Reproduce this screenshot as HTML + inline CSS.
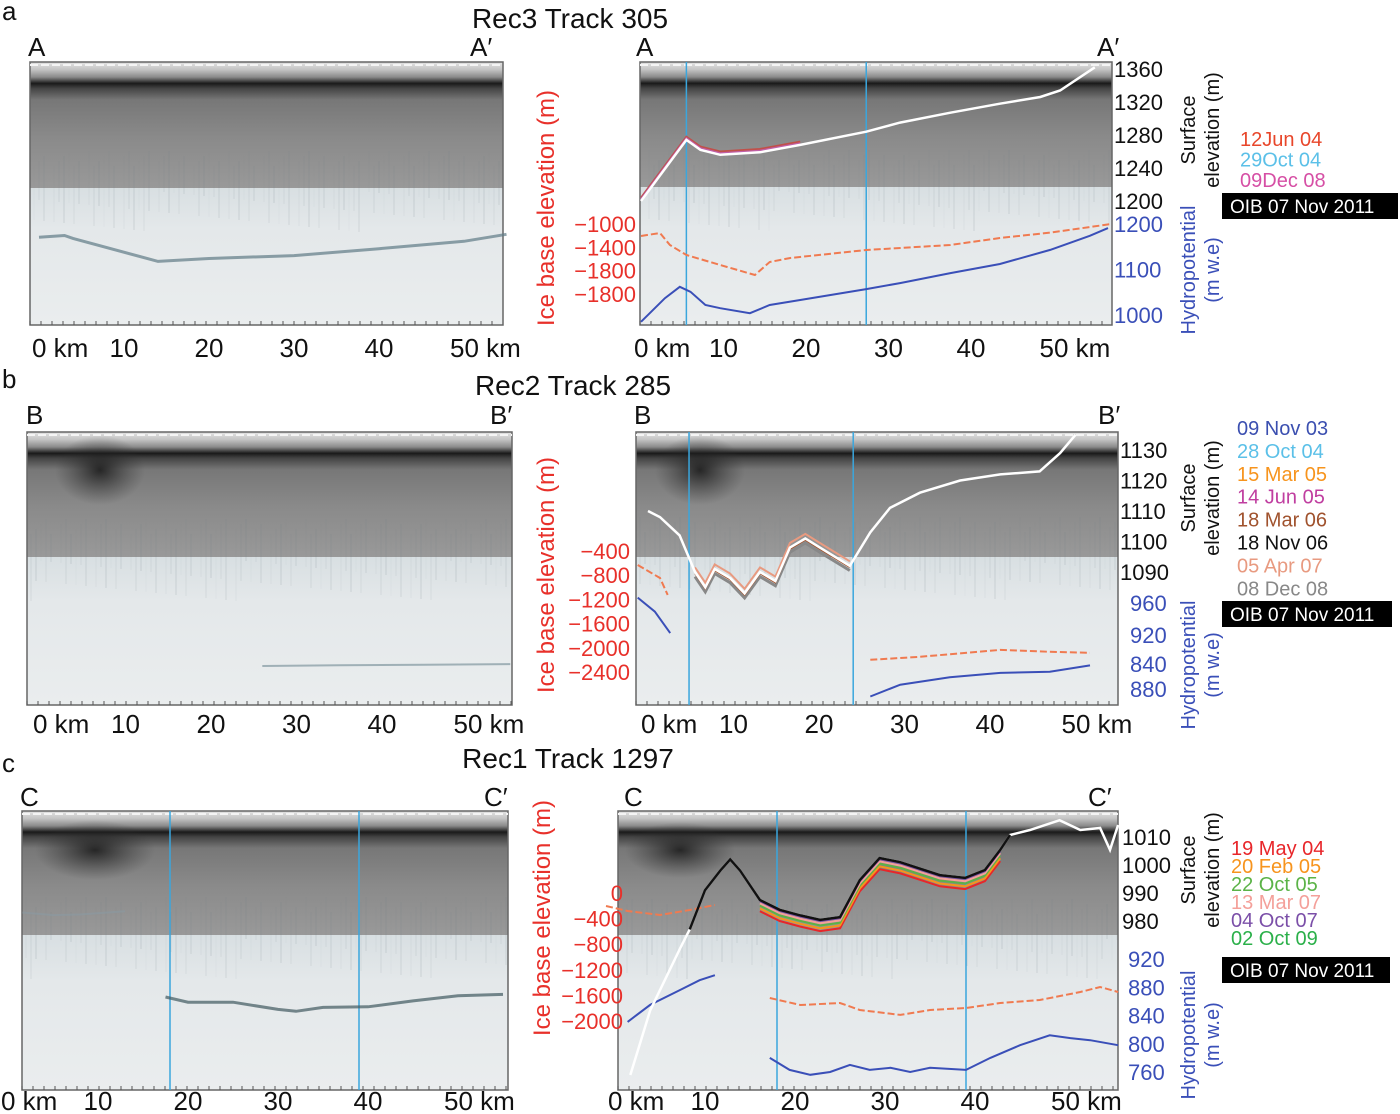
<!DOCTYPE html>
<html><head><meta charset="utf-8"><style>
body{margin:0;background:#fff;width:1400px;height:1114px;overflow:hidden}
svg{display:block;font-family:"Liberation Sans",sans-serif}
</style></head><body>
<svg id="fig" width="1400" height="1114" viewBox="0 0 1400 1114" xmlns="http://www.w3.org/2000/svg">
<defs>
<linearGradient id="gA" x1="0" y1="0" x2="0" y2="1">
<stop offset="0" stop-color="#e4e4e4"/><stop offset="0.06" stop-color="#c4c4c4"/><stop offset="0.12" stop-color="#8a8a8a"/><stop offset="0.17" stop-color="#1a1a1a"/><stop offset="0.21" stop-color="#444"/><stop offset="0.3" stop-color="#777"/><stop offset="0.6" stop-color="#8a8a8a"/><stop offset="1" stop-color="#999"/>
</linearGradient>
<linearGradient id="gL" x1="0" y1="0" x2="0" y2="1">
<stop offset="0" stop-color="#d8dfe2"/><stop offset="0.3" stop-color="#e4e8ea"/><stop offset="1" stop-color="#eaedee"/>
</linearGradient>
<radialGradient id="blob"><stop offset="0" stop-color="#111" stop-opacity="0.8"/><stop offset="1" stop-color="#333" stop-opacity="0"/></radialGradient>
</defs>
<g id="bg"></g>
<g id="marks"></g>
<g id="labels"></g>
</svg>
<script>
// ---- data (km, value) ----
const aSurfKm=[0,5.5,7.2,9.6,14.4,19.3,27.3,31.4,37.5,43.5,48.4,50.8,55];
const aSurfVal=[1200,1274,1262,1256,1259,1268,1284,1295,1307,1318,1326,1334,1362];
const aHydKm=[0,2.9,4.7,6,7.8,9.6,13.2,15.6,19.3,27.3,31.4,37.5,43.5,49.6,54.4,56.6];
const aHydVal=[985,1037,1062,1051,1022,1015,1004,1022,1033,1057,1070,1092,1112,1143,1174,1191];
const aIceKm=[0,2.3,3.5,5.5,9.6,13.8,15.6,18.1,27.3,37.5,43.5,49.6,57];
const aIceVal=[-1209,-1157,-1365,-1539,-1713,-1887,-1661,-1592,-1452,-1365,-1244,-1150,-1000];
const bSurfKm=[0,1.4,3.7,5.5,6.7,7.8,9.6,11.3,13.1,14.9,16.6,18.4,20.1,23.6,26,28.3,31.8,36.5,41.2,45.8,48.2,50];
const bSurfVal=[1110,1108,1102,1090,1085,1091,1088,1083,1090,1087,1098,1101,1098,1092,1103,1111,1116,1120,1122,1123,1129,1135];
const bHyd1Km=[-1.2,0.8,2.6], bHyd1Val=[965,952,932];
const bHyd2Km=[26,29.5,35.3,41.2,47,51.7], bHyd2Val=[873,884,891,895,896,902];
const bIce1Km=[-1.2,1.4,2.3], bIce1Val=[-631,-846,-1126];
const bIce2Km=[26,31.8,41.2,47,51.7], bIce2Val=[-2198,-2149,-2034,-2066,-2083];
const cSurfKm=[1.7,3.9,7.2,8.3,10,11.7,12.8,13.9,16.1,18.3,20.6,22.8,25,27.2,29.4,31.7,36.1,38.9,41.1,42.8,43.9,46.1,49.4,51.7,53.9,55,55.9];
const cSurfVal=[925,948,970,977,991,998,1002,998,987.5,984,982,980.4,981.4,994.6,1002.5,1001,996.4,995.4,998.2,1005.4,1010.7,1012.5,1016,1012.5,1013.2,1005.4,1014.3];
const cHyd1Km=[1.4,3.9,7.2,9.4,11.1], cHyd1Val=[831,855,876,890,897];
const cHyd2Km=[17.2,19.4,21.7,23.9,26.1,28.3,30.6,32.8,35,39,41.7,45,48.3,50.6,52.8,55.9];
const cHyd2Val=[780,763,756,760,770,763,766,760,766,763,780,798,812,808,805,798];
const cIce1Km=[-1,1.4,5,8.3,11.1], cIce1Val=[-200,-277,-338,-261,-185];
const cIce2Km=[17.2,20.6,25,27.2,31.7,35,39,42.8,47.2,51.7,53.9,55.9];
const cIce2Val=[-1615,-1723,-1692,-1800,-1876,-1800,-1769,-1692,-1646,-1523,-1446,-1523];
const kmTicks=[0,10,20,30,40,50];
const aSurfTicks=[1360,1320,1280,1240,1200], aHydTicks=[1200,1100,1000], aIceLabels=["−1000","−1400","−1800","−1800"];
const bSurfTicks=[1130,1120,1110,1100,1090], bHydLabels=["960","920","840","880"], bIceLabels=["−400","−800","−1200","−1600","−2000","−2400"];
const cSurfTicks=[1010,1000,990,980], cHydTicks=[920,880,840,800,760], cIceLabels=["0","−400","−800","−1200","−1600","−2000"];
const aLegend=["12Jun 04","29Oct 04","09Dec 08"];
const bLegend=["09 Nov 03","28 Oct 04","15 Mar 05","14 Jun 05","18 Mar 06","18 Nov 06","05 Apr 07","08 Dec 08"];
const cLegend=["19 May 04","20 Feb 05","22 Oct 05","13 Mar 07","04 Oct 07","02 Oct 09"];

const NS="http://www.w3.org/2000/svg";
const bg=document.getElementById('bg'),marks=document.getElementById('marks'),labels=document.getElementById('labels');
function mk(tag,attrs,parent){const e=document.createElementNS(NS,tag);for(const k in attrs)e.setAttribute(k,attrs[k]);parent.appendChild(e);return e;}
function txt(s,x,y,size,fill,parent,anchor,extra){const e=mk('text',Object.assign({x:x,y:y,'font-size':size,fill:fill,'text-anchor':anchor||'start'},extra||{}),parent);e.textContent=s;return e;}
function lin(d0,d1,p0,p1){return v=>p0+(v-d0)*(p1-p0)/(d1-d0);}
function pathD(xs,ys,X,Y){return xs.map((k,i)=>(i?'L':'M')+X(k).toFixed(1)+','+Y(ys[i]).toFixed(1)).join('');}

function radar(name,x0,x1,y0,yb,y1,blobs){
  const g=mk('g',{},bg);
  
  
  mk('rect',{x:x0,y:y0,width:x1-x0,height:yb-y0,fill:'url(#gA)'},g);
  mk('rect',{x:x0,y:yb,width:x1-x0,height:y1-yb,fill:'url(#gL)'},g);
  (blobs||[]).forEach(b=>mk('ellipse',{cx:b[0],cy:b[1],rx:b[2],ry:b[3],fill:'url(#blob)'},g));
  for(let x=x0+4;x<x1;x+=5){const h=((x*37)%41);const o=((x*13)%7)/30;mk('line',{x1:x,y1:yb-40+((x*7)%20),x2:x,y2:yb+4+h,stroke:'#6f7e86','stroke-width':1,opacity:o},g);}
  mk('rect',{x:x0,y:y0,width:x1-x0,height:y1-y0,fill:'none',stroke:'#666','stroke-width':1.5},g);
  mk('line',{x1:x0,y1:y0+3,x2:x1,y2:y0+3,stroke:'#f4f4f4','stroke-width':2,'stroke-dasharray':'8 3'},g);
  for(let x=x0;x<x1;x+=11){mk('line',{x1:x,y1:y1,x2:x,y2:y1-4,stroke:'#555','stroke-width':1},g);}
  return g;
}
function kmAxis(name,X,y,size){
  kmTicks.forEach(k=>{
    const s=(k===0||k===50)?k+' km':String(k);
    const off=(k===0||k===50)?-(String(k).length*7):0;
    const t=txt(s,X(k)+off,y,size||26,'#111',labels,(k===0||k===50)?'start':'middle');
    
    
  });
}
function line(name,xs,ys,X,Y,attrs){
  const p=mk('path',Object.assign({d:pathD(xs,ys,X,Y),fill:'none'},attrs),marks);
  
  
  return p;
}
function vline(name,x,y0,y1){const l=mk('line',{x1:x,y1:y0,x2:x,y2:y1,stroke:'#3aa6dd','stroke-width':1.5},marks);
  
  }
function rotText(s,x,y,size,fill,name){const t=txt(s,x,y,size,fill,labels,'middle',{transform:'rotate(-90 '+x+' '+y+')'});
  
  }
function legend(name,items,colors,x,y0,dy,boxY,boxW){
  items.forEach((s,i)=>{const t=txt(s,x,y0+i*dy,20,colors[i],labels);
    
    });
  const r=mk('rect',{x:1222,y:boxY,width:boxW,height:26,fill:'#000'},labels);
  
  
  const t=txt('OIB 07 Nov 2011',1230,boxY+20,19,'#fff',labels);
  
  
}
function simple(s,x,y,size,fill,name,anchor){const t=txt(s,x,y,size,fill,labels,anchor);
  
  }

// ===== Row a =====
simple('a',2,20,26,'#111','panel-label-a');
simple('Rec3 Track 305',570,28,28,'#111','title-a','middle');
radar('radargram-a-left',30,503,62,188,325);
radar('radargram-a-right',640,1112,62,187,325);
line('echo-a-left',[0,3,4,14,20,30,40,50,55],[-1230,-1200,-1250,-1650,-1600,-1550,-1430,-1300,-1180],lin(0,10,39,124),lin(-1000,-2200,224,293),{stroke:'#5f7a86','stroke-width':3,opacity:0.7});
{const X=lin(0,10,641,723.5);
 vline('a-divider-1',X(5.5),62,325);vline('a-divider-2',X(27.3),62,325);
 line('a-ice-base',aIceKm,aIceVal,X,lin(-1000,-2200,224,293),{stroke:'#f07a50','stroke-width':2,'stroke-dasharray':'7 3'});
 line('a-hydropotential',aHydKm,aHydVal,X,lin(1200,1000,224,315),{stroke:'#3a4fb8','stroke-width':2});
 const YS=lin(1360,1200,69,201);
 line('a-surface-12jun04',aSurfKm.slice(0,6),aSurfVal.slice(0,6).map(v=>v+4),X,YS,{stroke:'#c0504a','stroke-width':2});
 line('a-surface-09dec08',aSurfKm.slice(0,6),aSurfVal.slice(0,6).map(v=>v+2),X,YS,{stroke:'#c060a8','stroke-width':2});
 line('a-surface-oib',aSurfKm,aSurfVal,X,YS,{stroke:'#fff','stroke-width':2.5});
 kmAxis('a-right',X,357);
 aSurfTicks.forEach(v=>simple(String(v),1114,YS(v)+8,22,'#111','a-surf-tick-'+v));
 const YH=lin(1200,1000,224,315);
 aHydTicks.forEach(v=>simple(String(v),1114,YH(v)+8,22,'#3a4fb8','a-hyd-tick-'+v));
 aIceLabels.forEach((s,i)=>simple(s,636,232+i*23.3,22,'#e8302a','a-ice-tick-'+i,'end'));
}
kmAxis('a-left',lin(0,10,39,124),357);
simple('A',28,56,26,'#111','a-left-start');simple('A′',470,56,26,'#111','a-left-end');
simple('A',636,56,26,'#111','a-right-start');simple('A′',1097,56,26,'#111','a-right-end');
rotText('Ice base elevation (m)',554,208,24,'#e8302a','a-ice-axis-title');
rotText('Surface',1195,130,20,'#111','a-surf-axis-title-1');rotText('elevation (m)',1219,130,20,'#111','a-surf-axis-title-2');
rotText('Hydropotential',1195,270,20,'#3a4fb8','a-hyd-axis-title-1');rotText('(m w.e)',1219,270,20,'#3a4fb8','a-hyd-axis-title-2');
legend('a-legend',aLegend,['#e8462a','#5bc0e8','#d64fa5'],1240,146,20.5,193,176);

// ===== Row b =====
simple('b',2,388,26,'#111','panel-label-b');
simple('Rec2 Track 285',573,395,28,'#111','title-b','middle');
radar('radargram-b-left',27,512,432,557,705,[[100,470,45,35]]);
radar('radargram-b-right',636,1118,432,557,705,[[700,470,45,35]]);
line('echo-b-left',[26,35,45,55],[-2300,-2290,-2280,-2270],lin(0,10,40,125.5),lin(-400,-2400,551,672),{stroke:'#6f8892','stroke-width':2,opacity:0.6});
{const X=lin(0,10,648,733.5);
 vline('b-divider-1',X(4.8),432,705);vline('b-divider-2',X(24),432,705);
 const YI=lin(-400,-2400,551,672), YH=lin(960,880,603,689), YS=lin(1130,1090,450,572);
 line('b-ice-base-1',bIce1Km,bIce1Val,X,YI,{stroke:'#f07a50','stroke-width':2,'stroke-dasharray':'7 3'});
 line('b-ice-base-2',bIce2Km,bIce2Val,X,YI,{stroke:'#f07a50','stroke-width':2,'stroke-dasharray':'7 3'});
 line('b-hydropotential-1',bHyd1Km,bHyd1Val,X,YH,{stroke:'#3a4fb8','stroke-width':2});
 line('b-hydropotential-2',bHyd2Km,bHyd2Val,X,YH,{stroke:'#3a4fb8','stroke-width':2});
 const k5=bSurfKm.slice(3,14), v5=bSurfVal.slice(3,14);
 line('b-surface-08dec08',k5,v5.map(v=>v-1.5),X,YS,{stroke:'#888','stroke-width':3});
 line('b-surface-05apr07',k5,v5.map(v=>v+1.5),X,YS,{stroke:'#e89a80','stroke-width':2});
 line('b-surface-18mar06',k5,v5.map(v=>v-0.5),X,YS,{stroke:'#a0522d','stroke-width':1.5});
 line('b-surface-oib',bSurfKm,bSurfVal,X,YS,{stroke:'#fff','stroke-width':2.5});
 kmAxis('b-right',X,733);
 bSurfTicks.forEach(v=>simple(String(v),1120,YS(v)+8,22,'#111','b-surf-tick-'+v));
 bHydLabels.forEach((s,i)=>simple(s,1130,611+[0,32,61,86][i],22,'#3a4fb8','b-hyd-tick-'+i));
 bIceLabels.forEach((s,i)=>simple(s,630,559+i*24.2,22,'#e8302a','b-ice-tick-'+i,'end'));
}
kmAxis('b-left',lin(0,10,40,125.5),733);
simple('B',26,424,26,'#111','b-left-start');simple('B′',490,424,26,'#111','b-left-end');
simple('B',634,424,26,'#111','b-right-start');simple('B′',1098,424,26,'#111','b-right-end');
rotText('Ice base elevation (m)',554,575,24,'#e8302a','b-ice-axis-title');
rotText('Surface',1195,498,20,'#111','b-surf-axis-title-1');rotText('elevation (m)',1219,498,20,'#111','b-surf-axis-title-2');
rotText('Hydropotential',1195,665,20,'#3a4fb8','b-hyd-axis-title-1');rotText('(m w.e)',1219,665,20,'#3a4fb8','b-hyd-axis-title-2');
legend('b-legend',bLegend,['#3b4fb0','#5bc0e8','#f7941d','#c03ea0','#a0522d','#111','#e89a80','#888'],1237,435,22.9,601,170);

// ===== Row c =====
simple('c',2,772,26,'#111','panel-label-c');
simple('Rec1 Track 1297',568,768,28,'#111','title-c','middle');
radar('radargram-c-left',22,508,811,935,1090,[[95,850,60,30]]);
radar('radargram-c-right',618,1118,811,935,1090,[[680,850,55,28]]);
{const XL=lin(0,10,8,98), YL=lin(0,-2000,893,1023);
 vline('c-left-divider-1',170,811,1090);vline('c-left-divider-2',359,811,1090);
 line('echo-c-left-1',[1.6,5,8,13],[-300,-340,-330,-280],XL,YL,{stroke:'#8a9aa2','stroke-width':2,opacity:0.6});
 line('echo-c-left-2',[17.5,20,25,30,32,35,40,45,50,55],[-1600,-1680,-1680,-1790,-1820,-1760,-1750,-1660,-1580,-1560],XL,YL,{stroke:'#405860','stroke-width':3,opacity:0.7});
 kmAxis('c-left',XL,1110);}
{const X=lin(0,10,615,705);
 vline('c-divider-1',X(18),811,1090);vline('c-divider-2',X(39),811,1090);
 const YI=lin(0,-2000,893,1023), YH=lin(920,760,959,1072), YS=lin(1010,980,837,921);
 line('c-ice-base-1',cIce1Km,cIce1Val,X,YI,{stroke:'#f07a50','stroke-width':2,'stroke-dasharray':'7 3'});
 line('c-ice-base-2',cIce2Km,cIce2Val,X,YI,{stroke:'#f07a50','stroke-width':2,'stroke-dasharray':'7 3'});
 line('c-hydropotential-1',cHyd1Km,cHyd1Val,X,YH,{stroke:'#3a4fb8','stroke-width':2});
 line('c-hydropotential-2',cHyd2Km,cHyd2Val,X,YH,{stroke:'#3a4fb8','stroke-width':2});
 line('c-surface-oib',cSurfKm,cSurfVal,X,YS,{stroke:'#fff','stroke-width':2.5});
 const mk2=cSurfKm.slice(8,20), mv=cSurfVal.slice(8,20);
 [['c-surface-19may04','#e8262a',-4],['c-surface-20feb05','#f7941d',-3],['c-surface-22oct05','#5bb347',-2],['c-surface-13mar07','#f4a09a',-1.2],['c-surface-04oct07','#7b4fa8',-0.4]].forEach(s=>{
   line(s[0],mk2,mv.map(v=>v+s[2]),X,YS,{stroke:s[1],'stroke-width':2});});
 line('c-surface-black',cSurfKm.slice(3,21),cSurfVal.slice(3,21),X,YS,{stroke:'#111','stroke-width':2.5});
 kmAxis('c-right',X,1110);
 cSurfTicks.forEach(v=>simple(String(v),1122,YS(v)+8,22,'#111','c-surf-tick-'+v));
 cHydTicks.forEach(v=>simple(String(v),1128,YH(v)+8,22,'#3a4fb8','c-hyd-tick-'+v));
 cIceLabels.forEach((s,i)=>simple(s,623,901+i*25.6,22,'#e8302a','c-ice-tick-'+i,'end'));
}
simple('C',20,806,26,'#111','c-left-start');simple('C′',484,806,26,'#111','c-left-end');
simple('C',624,806,26,'#111','c-right-start');simple('C′',1088,806,26,'#111','c-right-end');
rotText('Ice base elevation (m)',550,918,24,'#e8302a','c-ice-axis-title');
rotText('Surface',1195,870,20,'#111','c-surf-axis-title-1');rotText('elevation (m)',1219,870,20,'#111','c-surf-axis-title-2');
rotText('Hydropotential',1195,1035,20,'#3a4fb8','c-hyd-axis-title-1');rotText('(m w.e)',1219,1035,20,'#3a4fb8','c-hyd-axis-title-2');
legend('c-legend',cLegend,['#e8262a','#f7941d','#5bb347','#f4a09a','#7b4fa8','#2bb04a'],1231,855,18,957,168);
</script>
</body></html>
